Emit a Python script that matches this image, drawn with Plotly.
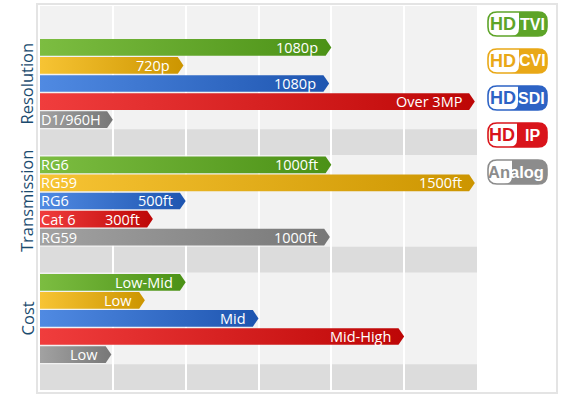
import plotly.graph_objects as go

# ---------------- data ----------------
sections = ["Resolution", "Transmission", "Cost"]
techs = ["HD-TVI", "HD-CVI", "HD-SDI", "HD-IP", "Analog"]

resolution_values = [4.0, 1.97, 3.97, 5.97, 1.0]
transmission_values = [4.0, 5.97, 2.0, 1.55, 3.98]
cost_values = [2.0, 1.44, 3.0, 5.0, 0.98]

resolution_end_labels = ["1080p", "720p", "1080p", "Over 3MP", ""]
resolution_start_labels = ["", "", "", "", "D1/960H"]
transmission_end_labels = ["1000ft", "1500ft", "500ft", "300ft", "1000ft"]
transmission_start_labels = ["RG6", "RG59", "RG6", "Cat 6", "RG59"]
cost_end_labels = ["Low-Mid", "Low", "Mid", "Mid-High", "Low"]
cost_start_labels = ["", "", "", "", ""]

grid_ticks = [0, 1, 2, 3, 4, 5, 6]

badge_prefix = ["HD", "HD", "HD", "HD", "An"]
badge_suffix = ["TVI", "CVI", "SDI", "IP", "alog"]

# ---------------- styles ----------------
light_cols = ["#7cbd41", "#f7c434", "#508ae2", "#f03d3d", "#a2a2a2"]
dark_cols = ["#4b9116", "#cc9500", "#1e55b0", "#bd0606", "#777777"]
badge_cols = ["#5da428", "#e9a817", "#2d63c5", "#d9141b", "#8c8c8c"]

FIG_W, FIG_H = 575, 399
ML, MR, MT, MB = 40, 98, 6, 9
PW = FIG_W - ML - MR
PH = FIG_H - MT - MB
Y_MAX = 21.25
X_MAX = 6.0
ROW0 = 2.29
SECTION_STEP = 6.5
HALF_H = 0.462
TIP_PX = 5.7
TIP = TIP_PX / PW * X_MAX
FONT = "Open Sans"

all_values = [resolution_values, transmission_values, cost_values]
all_end = [resolution_end_labels, transmission_end_labels, cost_end_labels]
all_start = [resolution_start_labels, transmission_start_labels, cost_start_labels]


def row_y(s, i):
    return ROW0 + SECTION_STEP * s + i


fig = go.Figure()
shapes = []
annotations = []

# light background bands behind each section
for s in range(len(sections)):
    top = 0 if s == 0 else row_y(s, 0) - 0.54
    bot = row_y(s, len(techs) - 1) + 0.53
    shapes.append(dict(type="rect", xref="x", yref="y", x0=0, x1=X_MAX, y0=top, y1=bot,
                       fillcolor="#f2f2f2", line=dict(width=0), layer="below"))

# bars (arrow-shaped, horizontal gradient)
for s, vals in enumerate(all_values):
    for i, v in enumerate(vals):
        y = row_y(s, i)
        xs = [0, v - TIP, v, v - TIP, 0, 0]
        ys = [y - HALF_H, y - HALF_H, y, y + HALF_H, y + HALF_H, y - HALF_H]
        fig.add_trace(go.Scatter(
            x=xs, y=ys, mode="lines", fill="toself",
            line=dict(width=0, color=dark_cols[i]),
            fillcolor=dark_cols[i],
            fillgradient=dict(type="horizontal",
                              colorscale=[[0, light_cols[i]], [1, dark_cols[i]]]),
            hoverinfo="skip", name=techs[i], showlegend=False))
        if all_end[s][i]:
            annotations.append(dict(x=v, y=y, xref="x", yref="y", text=all_end[s][i],
                                    showarrow=False, xanchor="right", yanchor="middle",
                                    xshift=-11, font=dict(family=FONT, size=14.5, color="white")))
        if all_start[s][i]:
            annotations.append(dict(x=0, y=y, xref="x", yref="y", text=all_start[s][i],
                                    showarrow=False, xanchor="left", yanchor="middle",
                                    xshift=-1, font=dict(family=FONT, size=14.5, color="white")))

# section titles
for s, name in enumerate(sections):
    annotations.append(dict(x=0, y=row_y(s, 2), xref="paper", yref="y", text=name,
                            showarrow=False, textangle=-90, xanchor="center", yanchor="middle",
                            xshift=-13, font=dict(family=FONT, size=16.5, color="#1b4b6e")))


# pixel -> paper helpers for decorations
def px(xp):
    return (xp - ML) / PW


def py(yp):
    return (FIG_H - MB - yp) / PH


# outer frame
shapes.append(dict(type="rect", xref="paper", yref="paper", x0=px(37), x1=px(557),
                   y0=py(393), y1=py(4), line=dict(color="#e4e4e4", width=2),
                   fillcolor="rgba(0,0,0,0)", layer="above"))


def rr_path(x0, y0, x1, y1, r):
    p = [
        f"M{px(x0 + r)},{py(y0)}",
        f"L{px(x1 - r)},{py(y0)}",
        f"Q{px(x1)},{py(y0)} {px(x1)},{py(y0 + r)}",
        f"L{px(x1)},{py(y1 - r)}",
        f"Q{px(x1)},{py(y1)} {px(x1 - r)},{py(y1)}",
        f"L{px(x0 + r)},{py(y1)}",
        f"Q{px(x0)},{py(y1)} {px(x0)},{py(y1 - r)}",
        f"L{px(x0)},{py(y0 + r)}",
        f"Q{px(x0)},{py(y0)} {px(x0 + r)},{py(y0)}",
        "Z",
    ]
    return " ".join(p)


def right_path(xs, x0, y0, x1, y1, r, r2):
    p = [
        f"M{px(xs)},{py(y0)}",
        f"L{px(x1 - r)},{py(y0)}",
        f"Q{px(x1)},{py(y0)} {px(x1)},{py(y0 + r)}",
        f"L{px(x1)},{py(y1 - r)}",
        f"Q{px(x1)},{py(y1)} {px(x1 - r)},{py(y1)}",
        f"L{px(xs - r2)},{py(y1)}",
        f"Q{px(xs)},{py(y1)} {px(xs)},{py(y1 - r2)}",
        "Z",
    ]
    return " ".join(p)


# legend badges
bx0, bx1 = 488, 547
splits = [519, 519, 518, 517, 512]
pre_centers = [503, 503, 502.5, 502, 499.5]
suf_centers = [532.5, 532.5, 531, 532.5, 527]
for k in range(len(techs)):
    cy = 24 + 37 * k
    by0, by1 = cy - 12, cy + 12
    col = badge_cols[k]
    xs = splits[k]
    shapes.append(dict(type="path", xref="paper", yref="paper", path=rr_path(bx0, by0, bx1, by1, 9),
                       fillcolor="white", line=dict(width=0), layer="above"))
    shapes.append(dict(type="path", xref="paper", yref="paper",
                       path=right_path(xs, bx0, by0, bx1, by1, 9, 8),
                       fillcolor=col, line=dict(width=0), layer="above"))
    shapes.append(dict(type="path", xref="paper", yref="paper", path=rr_path(bx0, by0, bx1, by1, 9),
                       fillcolor="rgba(0,0,0,0)", line=dict(width=1.6, color=col), layer="above"))
    pre_size = 18 if k < 4 else 16.5
    suf_size = 16 if k < 4 else 16.5
    annotations.append(dict(x=px(pre_centers[k]), y=py(cy), xref="paper", yref="paper",
                            text=f"<b>{badge_prefix[k]}</b>", showarrow=False,
                            xanchor="center", yanchor="middle",
                            font=dict(family="Liberation Sans", size=pre_size, color=col)))
    annotations.append(dict(x=px(suf_centers[k]), y=py(cy), xref="paper", yref="paper",
                            text=f"<b>{badge_suffix[k]}</b>", showarrow=False,
                            xanchor="center", yanchor="middle",
                            font=dict(family="Liberation Sans", size=suf_size, color="white")))

fig.update_layout(
    width=FIG_W, height=FIG_H,
    margin=dict(l=ML, r=MR, t=MT, b=MB),
    paper_bgcolor="white", plot_bgcolor="#dcdcdc",
    showlegend=False,
    shapes=shapes, annotations=annotations,
    xaxis=dict(range=[0, X_MAX], tickvals=grid_ticks, showgrid=True, gridcolor="white",
               gridwidth=2, showticklabels=False, zeroline=False, ticks="", fixedrange=True,
               showline=False),
    yaxis=dict(range=[Y_MAX, 0], showgrid=False, showticklabels=False, zeroline=False,
               ticks="", fixedrange=True, showline=False),
)

fig.write_html("out.html", config={"displayModeBar": False, "staticPlot": True},
               post_script="document.body.style.margin='0';")
